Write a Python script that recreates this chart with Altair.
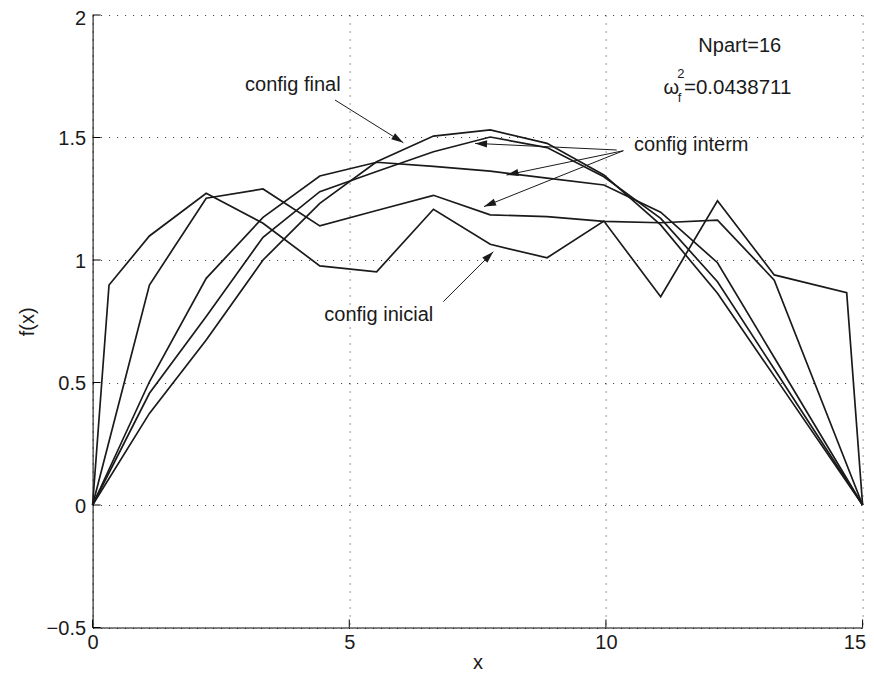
import math
import altair as alt
import pandas as pd

# ---------------- data ----------------
X_NODES = [0, 1.107, 2.213, 3.320, 4.426, 5.533, 6.640, 7.746, 8.853, 9.960,
           11.066, 12.173, 13.279, 15]
X_INIT = [0, 0.32, 1.107, 2.213, 3.320, 4.426, 5.533, 6.640, 7.746, 8.853,
          9.960, 11.066, 12.173, 13.279, 14.69, 15]

Y_INIT = [0, 0.898, 1.098, 1.272, 1.150, 0.976, 0.952, 1.207, 1.064, 1.009,
          1.159, 0.850, 1.242, 0.939, 0.867, 0]
Y_INTERM1 = [0, 0.898, 1.252, 1.290, 1.139, 1.202, 1.264, 1.184, 1.177, 1.158,
             1.152, 1.163, 0.918, 0]
Y_INTERM2 = [0, 0.503, 0.925, 1.174, 1.343, 1.399, 1.382, 1.363, 1.334, 1.306,
             1.195, 0.989, 0.602, 0]
Y_INTERM3 = [0, 0.456, 0.769, 1.093, 1.279, 1.361, 1.442, 1.502, 1.459, 1.340,
             1.170, 0.911, 0.555, 0]
Y_FINAL = [0, 0.374, 0.673, 1.000, 1.231, 1.401, 1.506, 1.531, 1.476, 1.347,
           1.143, 0.864, 0.526, 0]

X_TICKS = [0, 5, 10, 15]
Y_TICKS = [-0.5, 0, 0.5, 1, 1.5, 2]

# annotation texts (label, x, y, font size)
ANN_TEXT = ["config final", "config interm", "config inicial", "Npart=16",
            "\u03c9", "2", "f", "=0.0438711"]
ANN_X = [2.969, 10.547, 4.514, 11.80, 11.12, 11.39, 11.40, 11.52]
ANN_Y = [1.690, 1.446, 0.752, 1.850, 1.678, 1.742, 1.643, 1.678]
ANN_SIZE = [20, 20, 20, 20, 20, 13, 13, 20.5]

# arrows: tail (x, y) -> tip (x2, y2)
ARR_X = [4.722, 10.21, 10.339, 10.339, 6.832]
ARR_Y = [1.653, 1.449, 1.446, 1.446, 0.830]
ARR_X2 = [6.053, 7.45, 8.063, 7.625, 7.806]
ARR_Y2 = [1.479, 1.476, 1.347, 1.218, 1.034]

# ---------------- layout ----------------
W, H = 770, 612.5
XDOM, YDOM = [0, 15], [-0.5, 2]
FONT = "Liberation Sans"
INK = "#1a1a1a"

xs = alt.Scale(domain=XDOM, nice=False, zero=False)
ys = alt.Scale(domain=YDOM, nice=False, zero=False)
XAX = alt.Axis(
    values=X_TICKS, format="~g", grid=True, tickSize=0, labelFlush=False,
    labelAlign={"condition": {"test": "datum.value == 15", "value": "right"}, "value": "center"},
    labelOffset={"condition": {"test": "datum.value == 15", "value": 3}, "value": 0},
    labelPadding=5, titlePadding=0)
YAX = alt.Axis(
    values=Y_TICKS, format="~g", grid=True, tickSize=0, labelFlush=False,
    labelOffset={"condition": {"test": "datum.value == 2", "value": 3}, "value": 1},
    labelPadding=7, titlePadding=9)


def X(field):
    return alt.X(field, scale=xs, axis=XAX, title="x")


def Y(field):
    return alt.Y(field, scale=ys, axis=YAX, title="f(x)")


rows = []
for name, xv, yv in [("inicial", X_INIT, Y_INIT), ("interm1", X_NODES, Y_INTERM1),
                     ("interm2", X_NODES, Y_INTERM2), ("interm3", X_NODES, Y_INTERM3),
                     ("final", X_NODES, Y_FINAL)]:
    for i, (a, b) in enumerate(zip(xv, yv)):
        rows.append({"series": name, "order": i, "x": a, "y": b})
lines_df = pd.DataFrame(rows)

lines = alt.Chart(lines_df).mark_line(color=INK, strokeWidth=1.7).encode(
    x=X("x:Q"), y=Y("y:Q"), detail="series:N", order="order:Q")

# inward major ticks
xt = alt.Chart(pd.DataFrame({"t": X_TICKS})).mark_rule(color="black", strokeWidth=1).encode(
    x=X("t:Q"), y=alt.value(H), y2=alt.value(H - 8))
yt = alt.Chart(pd.DataFrame({"t": Y_TICKS})).mark_rule(color="black", strokeWidth=1).encode(
    y=Y("t:Q"), x=alt.value(0), x2=alt.value(8))

# arrows
kx = W / (XDOM[1] - XDOM[0])
ky = H / (YDOM[1] - YDOM[0])
angles = []
for a, b, c, d in zip(ARR_X, ARR_Y, ARR_X2, ARR_Y2):
    dx = (c - a) * kx
    dy = -(d - b) * ky
    angles.append(math.degrees(math.atan2(dx, -dy)) % 360)
arr_df = pd.DataFrame({"x": ARR_X, "y": ARR_Y, "x2": ARR_X2, "y2": ARR_Y2, "ang": angles})

shafts = alt.Chart(arr_df).mark_rule(color=INK, strokeWidth=1).encode(
    x=X("x:Q"), y=Y("y:Q"), x2="x2:Q", y2="y2:Q")
heads = alt.Chart(arr_df).mark_point(
    shape="M0,0L-0.6,2L0.6,2Z", filled=True, color=INK, opacity=1, size=144, strokeWidth=0
).encode(x=X("x2:Q"), y=Y("y2:Q"), angle=alt.Angle("ang:Q", scale=None))

ann_df = pd.DataFrame({"label": ANN_TEXT, "x": ANN_X, "y": ANN_Y, "fs": ANN_SIZE})
texts = alt.Chart(ann_df).mark_text(
    align="left", baseline="alphabetic", font=FONT, color=INK
).encode(
    x=X("x:Q"), y=Y("y:Q"),
    text="label:N", size=alt.Size("fs:Q", scale=None, legend=None))

chart = alt.layer(lines, xt, yt, shafts, heads, texts).properties(
    width=W, height=H,
    autosize=alt.AutoSizeParams(type="none"),
    padding={"left": 84.6, "top": 7, "right": 3.4, "bottom": 47},
).configure_view(stroke=None).configure_axis(
    domainColor="black", domainWidth=1,
    gridColor="#000000", gridOpacity=0.8, gridDash=[1, 7], gridWidth=1,
    labelFont=FONT, labelFontSize=20, labelColor=INK,
    titleFont=FONT, titleFontSize=20, titleFontWeight="normal", titleColor=INK,
)

chart.save("out.html", embed_options={"renderer": "svg", "actions": False})
